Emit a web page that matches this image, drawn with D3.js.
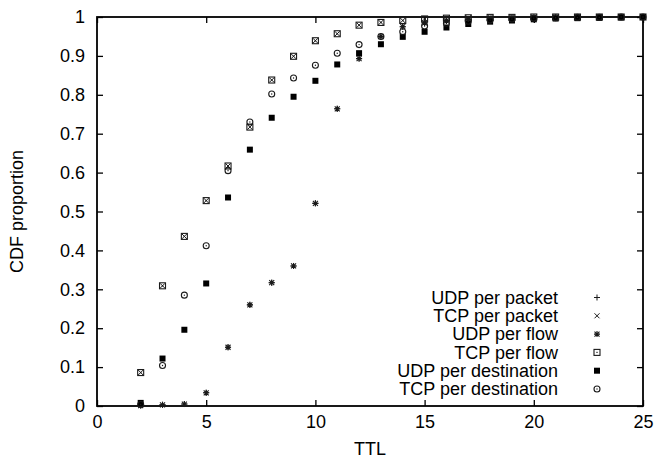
<!DOCTYPE html>
<html>
<head>
<meta charset="utf-8">
<script src="https://cdn.jsdelivr.net/npm/d3@7"></script>
<style>
  html, body { margin: 0; padding: 0; background: #fff; }
  svg text { font-family: "Liberation Sans", Arial, Helvetica, sans-serif; fill: #000; }
</style>
</head>
<body>
<svg id="chart" width="657" height="461"></svg>
<script>
// TTL values on the x axis
const ttl = [2, 3, 4, 5, 6, 7, 8, 9, 10, 11, 12, 13, 14, 15, 16, 17, 18, 19, 20, 21, 22, 23, 24, 25];

// Cumulative proportions per TTL for each series
const udpPerPacket = [0.001, 0.003, 0.005, 0.034, 0.151, 0.260, 0.317, 0.360, 0.521, 0.764, 0.893, 0.950, 0.975, 0.985, 0.990, 0.994, 0.996, 0.997, 0.998, 0.999, 0.999, 1.000, 1.000, 1.000];
const tcpPerPacket = [0.086, 0.309, 0.436, 0.528, 0.617, 0.717, 0.838, 0.899, 0.939, 0.957, 0.979, 0.986, 0.991, 0.995, 0.997, 0.998, 0.999, 0.999, 1.000, 1.000, 1.000, 1.000, 1.000, 1.000];
const udpPerFlow   = [0.001, 0.003, 0.005, 0.034, 0.151, 0.260, 0.317, 0.360, 0.521, 0.764, 0.893, 0.950, 0.975, 0.985, 0.990, 0.994, 0.996, 0.997, 0.998, 0.999, 0.999, 1.000, 1.000, 1.000];
const tcpPerFlow   = [0.086, 0.309, 0.436, 0.528, 0.617, 0.717, 0.838, 0.899, 0.939, 0.957, 0.979, 0.986, 0.991, 0.995, 0.997, 0.998, 0.999, 0.999, 1.000, 1.000, 1.000, 1.000, 1.000, 1.000];
const udpPerDest   = [0.008, 0.122, 0.196, 0.315, 0.536, 0.659, 0.741, 0.795, 0.836, 0.878, 0.907, 0.930, 0.949, 0.962, 0.973, 0.982, 0.988, 0.991, 0.994, 0.996, 0.997, 0.998, 0.999, 1.000];
const tcpPerDest   = [0.004, 0.104, 0.285, 0.412, 0.605, 0.730, 0.802, 0.843, 0.876, 0.907, 0.929, 0.950, 0.962, 0.977, 0.984, 0.989, 0.992, 0.995, 0.997, 0.998, 0.999, 0.999, 1.000, 1.000];

const seriesNames = ["UDP per packet", "TCP per packet", "UDP per flow", "TCP per flow", "UDP per destination", "TCP per destination"];
const seriesValues = [udpPerPacket, tcpPerPacket, udpPerFlow, tcpPerFlow, udpPerDest, tcpPerDest];
const seriesSymbols = ["plus", "cross", "star", "boxdot", "box", "circledot"];

// Axis ticks and labels
const xTicks = [0, 5, 10, 15, 20, 25];
const yTicks = [0, 0.1, 0.2, 0.3, 0.4, 0.5, 0.6, 0.7, 0.8, 0.9, 1];
const yTickLabels = ["0", "0.1", "0.2", "0.3", "0.4", "0.5", "0.6", "0.7", "0.8", "0.9", "1"];
const xTitle = "TTL";
const yTitle = "CDF proportion";

const svg = d3.select("#chart");
const plot = { left: 97, right: 643, top: 17, bottom: 406 };

const x = d3.scaleLinear().domain([0, 25]).range([plot.left, plot.right]);
const y = d3.scaleLinear().domain([0, 1]).range([plot.bottom, plot.top]);

const tickLen = 6;
const fontSize = 18;

// Bottom axis with labels, ticks pointing into the plot
const axisB = svg.append("g")
  .attr("transform", `translate(0,${plot.bottom})`)
  .call(d3.axisBottom(x).tickValues(xTicks).tickSizeInner(-tickLen).tickSizeOuter(0).tickPadding(9).tickFormat(d3.format("d")));
// Top mirror ticks
const axisT = svg.append("g")
  .attr("transform", `translate(0,${plot.top})`)
  .call(d3.axisTop(x).tickValues(xTicks).tickSizeInner(-tickLen).tickSizeOuter(0).tickFormat(""));
// Left axis with labels
const axisL = svg.append("g")
  .attr("transform", `translate(${plot.left},0)`)
  .call(d3.axisLeft(y).tickValues(yTicks).tickSizeInner(-tickLen).tickSizeOuter(0).tickPadding(12)
    .tickFormat((d, i) => yTickLabels[i]));
// Right mirror ticks
const axisR = svg.append("g")
  .attr("transform", `translate(${plot.right},0)`)
  .call(d3.axisRight(y).tickValues(yTicks).tickSizeInner(-tickLen).tickSizeOuter(0).tickFormat(""));

[axisB, axisT, axisL, axisR].forEach(g => {
  g.select(".domain").remove();
  g.selectAll(".tick line").attr("stroke", "#000").attr("stroke-width", 1.3);
  g.selectAll("text").attr("font-size", fontSize).attr("font-family", null).attr("fill", "#000");
});

// Plot frame
svg.append("rect")
  .attr("x", plot.left).attr("y", plot.top)
  .attr("width", plot.right - plot.left).attr("height", plot.bottom - plot.top)
  .attr("fill", "none").attr("stroke", "#000").attr("stroke-width", 1.8);

// Axis titles
svg.append("text")
  .attr("x", (plot.left + plot.right) / 2).attr("y", 455)
  .attr("text-anchor", "middle").attr("font-size", fontSize).text(xTitle);
svg.append("text")
  .attr("transform", `translate(23,${(plot.top + plot.bottom) / 2}) rotate(-90)`)
  .attr("text-anchor", "middle").attr("font-size", fontSize).text(yTitle);

// Point symbols
const ink = "#1a1a1a";
function drawSymbol(g, kind, cx, cy) {
  const s = 3;
  if (kind === "plus") {
    g.append("path").attr("d", `M${cx - s},${cy}H${cx + s}M${cx},${cy - s}V${cy + s}`)
      .attr("stroke", ink).attr("stroke-width", 1).attr("fill", "none");
  } else if (kind === "cross") {
    g.append("path").attr("d", `M${cx - s + 0.5},${cy - s + 0.5}L${cx + s - 0.5},${cy + s - 0.5}M${cx - s + 0.5},${cy + s - 0.5}L${cx + s - 0.5},${cy - s + 0.5}`)
      .attr("stroke", ink).attr("stroke-width", 1).attr("fill", "none");
  } else if (kind === "star") {
    g.append("path").attr("d", `M${cx - s},${cy}H${cx + s}M${cx},${cy - s}V${cy + s}M${cx - s + 0.5},${cy - s + 0.5}L${cx + s - 0.5},${cy + s - 0.5}M${cx - s + 0.5},${cy + s - 0.5}L${cx + s - 0.5},${cy - s + 0.5}`)
      .attr("stroke", ink).attr("stroke-width", 1.1).attr("fill", "none");
  } else if (kind === "boxdot") {
    g.append("rect").attr("x", cx - s).attr("y", cy - s).attr("width", 2 * s).attr("height", 2 * s)
      .attr("fill", "none").attr("stroke", ink).attr("stroke-width", 1.1);
    g.append("rect").attr("x", cx - 0.6).attr("y", cy - 0.6).attr("width", 1.2).attr("height", 1.2).attr("fill", ink);
  } else if (kind === "box") {
    g.append("rect").attr("x", cx - s).attr("y", cy - s).attr("width", 2 * s).attr("height", 2 * s).attr("fill", "#000");
  } else if (kind === "circledot") {
    g.append("circle").attr("cx", cx).attr("cy", cy).attr("r", s)
      .attr("fill", "none").attr("stroke", ink).attr("stroke-width", 1.1);
    g.append("circle").attr("cx", cx).attr("cy", cy).attr("r", 0.7).attr("fill", ink);
  }
}

// Data points
const marks = svg.append("g");
seriesValues.forEach((vals, si) => {
  const g = marks.append("g").attr("class", "series");
  vals.forEach((v, i) => drawSymbol(g, seriesSymbols[si], x(ttl[i]), y(v)));
});

// Legend: right-aligned labels with a sample symbol to the right
const legend = svg.append("g");
const legendTop = 297.5, legendStep = 18.3, legendTextRight = 558, legendSymX = 597;
seriesNames.forEach((name, i) => {
  const cy = legendTop + i * legendStep;
  legend.append("text").attr("x", legendTextRight).attr("y", cy)
    .attr("dy", "0.35em").attr("text-anchor", "end").attr("font-size", fontSize).text(name);
  drawSymbol(legend, seriesSymbols[i], legendSymX, cy);
});
</script>
</body>
</html>
